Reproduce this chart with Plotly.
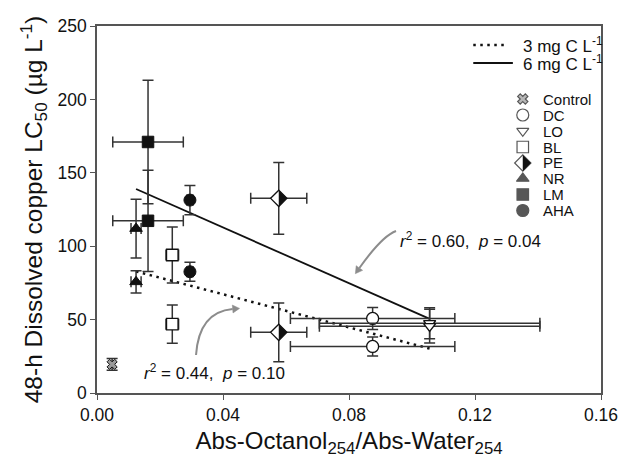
import numpy as np
import plotly.graph_objects as go

# ---------------- data ----------------
groups = ["DC", "LO", "BL", "PE", "NR", "LM", "AHA"]
ratio = [0.0875, 0.1056, 0.0239, 0.0577, 0.0124, 0.0162, 0.0295]
ratio_err = [0.0261, 0.0350, 0.0020, 0.0089, 0.0016, 0.0112, 0.0010]
lc50_6mg = [50.8, 47.5, 94.0, 132.6, 112.0, 171.0, 131.4]
lc50_6mg_err = [7.5, 10.5, 19.0, 24.5, 20.0, 42.0, 10.0]
lc50_3mg = [31.7, 45.5, 46.9, 41.3, 75.7, 117.3, 82.6]
lc50_3mg_err = [6.5, 11.5, 13.0, 20.0, 7.5, 34.5, 6.5]
control_ratio = [0.0048]
control_lc50 = [19.5]
control_err = [4.0]

legend_labels = ["Control", "DC", "LO", "BL", "PE", "NR", "LM", "AHA"]
x_ticks = [0.00, 0.04, 0.08, 0.12, 0.16]
y_ticks = [0, 50, 100, 150, 200, 250]

# ---------------- geometry / style ----------------
W, H = 630, 463
ML, MR, MT, MB = 97, 24, 26, 70
PW, PH = W - ML - MR, H - MT - MB
XMAX, YMAX = 0.16, 250

FONT = "Liberation Sans, Arial, Helvetica, sans-serif"
AX_COL = "#555555"
ERR_COL = "#333333"
ARROW_COL = "#8c8c8c"
DOT = "2.5px,4.5px"


def px2x(px):
    return (px - ML) / PW * XMAX


def py2y(py):
    return (H - MB - py) / PH * YMAX


def px2paper(px):
    return (px - ML) / PW


def py2paper(py):
    return (H - MB - py) / PH


styles = {
    "Control": dict(symbol="x", size=9, color="#9a9a9a", line=dict(color="#111", width=1)),
    "DC": dict(symbol="circle", size=12, color="white", line=dict(color="#111", width=1.3)),
    "LO": dict(symbol="triangle-down", size=10.5, color="white", line=dict(color="#111", width=1.4)),
    "BL": dict(symbol="square", size=11.5, color="white", line=dict(color="#111", width=1.3)),
    "PE": dict(symbol="diamond", size=12.5, color="white", line=dict(color="#111", width=1.3)),
    "NR": dict(symbol="triangle-up", size=11, color="#111", line=dict(color="#111", width=1)),
    "LM": dict(symbol="square", size=11.5, color="#111", line=dict(color="#111", width=1)),
    "AHA": dict(symbol="circle", size=12, color="#111", line=dict(color="#111", width=1)),
}

fig = go.Figure()

# regression lines (least squares through each concentration series)
for vals, dash, lw in [(lc50_3mg, DOT, 2.5), (lc50_6mg, "solid", 1.8)]:
    k, b = np.polyfit(ratio, vals, 1)
    xs = np.array([min(ratio), max(ratio)])
    fig.add_trace(go.Scatter(
        x=xs, y=k * xs + b, mode="lines",
        line=dict(color="#111", width=lw, dash=dash),
        showlegend=False, hoverinfo="skip"))

eb = dict(type="data", color=ERR_COL, thickness=1.5, width=5.5)

# control
fig.add_trace(go.Scatter(
    x=control_ratio, y=control_lc50, mode="markers",
    error_y=dict(array=control_err, **eb),
    marker=styles["Control"], showlegend=False))

# groups, both concentrations
for i, g in enumerate(groups):
    fig.add_trace(go.Scatter(
        x=[ratio[i], ratio[i]], y=[lc50_6mg[i], lc50_3mg[i]], mode="markers",
        error_y=dict(array=[lc50_6mg_err[i], lc50_3mg_err[i]], **eb),
        error_x=dict(array=[ratio_err[i], ratio_err[i]], **eb),
        marker=styles[g], showlegend=False))

shapes = []
half = 0.65 * styles["PE"]["size"]
half_path = f"M0,{half} L{half},0 L0,{-half} Z"
pe = groups.index("PE")
for yv in (lc50_6mg[pe], lc50_3mg[pe]):
    shapes.append(dict(type="path", xref="x", yref="y", xsizemode="pixel", ysizemode="pixel",
                       xanchor=ratio[pe], yanchor=yv, path=half_path,
                       fillcolor="#111", line=dict(width=0)))

# ---------------- manual legend ----------------
leg_px = 527
leg_text_px = 545
leg_rows = [99, 115, 131, 147, 163, 178.5, 194.5, 210.5]
fig.add_trace(go.Scatter(x=[px2paper(leg_px)] * len(legend_labels),
                         y=[py2paper(r) for r in leg_rows], mode="markers",
                         marker=dict(symbol=[styles[l]["symbol"] for l in legend_labels],
                                     size=[styles[l]["size"] for l in legend_labels],
                                     color=[styles[l]["color"] for l in legend_labels],
                                     line=dict(color="#111", width=1.2)),
                         xaxis="x2", yaxis="y2", showlegend=False, hoverinfo="skip"))
shapes.append(dict(type="path", xref="paper", yref="paper", xsizemode="pixel", ysizemode="pixel",
                   xanchor=px2paper(leg_px), yanchor=py2paper(leg_rows[4]), path=half_path,
                   fillcolor="#111", line=dict(width=0)))

annotations = []
for lab, r in zip(legend_labels, leg_rows):
    annotations.append(dict(text=lab, x=px2paper(leg_text_px), y=py2paper(r), xref="paper", yref="paper",
                            xanchor="left", yanchor="middle", showarrow=False,
                            font=dict(size=15, family=FONT, color="#111")))

line_rows = [(45, 509, DOT, 2.5, "3 mg C L<sup>-1</sup>"), (63, 517, "solid", 1.8, "6 mg C L<sup>-1</sup>")]
for ry, xend, dash, lw, lab in line_rows:
    fig.add_trace(go.Scatter(x=[px2paper(477), px2paper(xend)], y=[py2paper(ry)] * 2, mode="lines",
                             line=dict(color="#111", width=lw, dash=dash),
                             xaxis="x2", yaxis="y2", showlegend=False, hoverinfo="skip"))
    annotations.append(dict(text=lab, x=px2paper(525), y=py2paper(ry), xref="paper", yref="paper",
                            xanchor="left", yanchor="middle", showarrow=False,
                            font=dict(size=17, family=FONT, color="#111")))

# ---------------- r2 annotations with curved arrows ----------------
stat_font = dict(size=17, family=FONT, color="#111")
annotations.append(dict(text="<i>r</i><sup>2</sup> = 0.60,  <i>p</i> = 0.04",
                        x=px2x(474), y=py2y(240), xref="x", yref="y", showarrow=False,
                        xanchor="center", yanchor="middle", font=stat_font))
annotations.append(dict(text="<i>r</i><sup>2</sup> = 0.44,  <i>p</i> = 0.10",
                        x=px2x(216), y=py2y(372), xref="x", yref="y", showarrow=False,
                        xanchor="center", yanchor="middle", font=stat_font))

arrows = [((399, 231), (385, 236), (362, 268)),
          ((197, 355), (200, 312), (234, 309))]
for p0, c, p2 in arrows:
    path = (f"M{px2x(p0[0])},{py2y(p0[1])} Q{px2x(c[0])},{py2y(c[1])} "
            f"{px2x(p2[0])},{py2y(p2[1])}")
    shapes.append(dict(type="path", xref="x", yref="y", path=path,
                       line=dict(color=ARROW_COL, width=2)))
    dx, dy = p2[0] - c[0], p2[1] - c[1]
    n = (dx * dx + dy * dy) ** 0.5
    ux, uy = dx / n, dy / n
    tip = (p2[0] + ux * 7, p2[1] + uy * 7)
    bl = (p2[0] - uy * 4, p2[1] + ux * 4)
    br = (p2[0] + uy * 4, p2[1] - ux * 4)
    head = (f"M{px2x(tip[0])},{py2y(tip[1])} L{px2x(bl[0])},{py2y(bl[1])} "
            f"L{px2x(br[0])},{py2y(br[1])} Z")
    shapes.append(dict(type="path", xref="x", yref="y", path=head,
                       fillcolor=ARROW_COL, line=dict(color=ARROW_COL, width=0.5)))

axis_common = dict(showgrid=False, zeroline=False, showline=True, linecolor=AX_COL, linewidth=1.5,
                   mirror=True, ticks="outside", ticklen=5, tickwidth=1.3, tickcolor=AX_COL,
                   tickfont=dict(size=17.5, family=FONT, color="#111"))

fig.update_layout(
    width=W, height=H,
    margin=dict(l=ML, r=MR, t=MT, b=MB, pad=0),
    paper_bgcolor="white", plot_bgcolor="white",
    showlegend=False,
    xaxis=dict(range=[0, XMAX], tickvals=x_ticks, ticktext=[f"{v:.2f}" for v in x_ticks],
               title=dict(text="Abs-Octanol<sub>254</sub>/Abs-Water<sub>254</sub>",
                          font=dict(size=24, family=FONT, color="#111"), standoff=8),
               **axis_common),
    yaxis=dict(range=[0, YMAX], tickvals=y_ticks,
               title=dict(text="48-h Dissolved copper LC<sub>50</sub> (µg L<sup>-1</sup>)",
                          font=dict(size=24.5, family=FONT, color="#111"), standoff=8),
               **axis_common),
    xaxis2=dict(overlaying="x", anchor="y2", range=[0, 1], visible=False),
    yaxis2=dict(overlaying="y", anchor="x2", range=[0, 1], visible=False),
    shapes=shapes,
    annotations=annotations,
)

fig.write_html("out.html")
